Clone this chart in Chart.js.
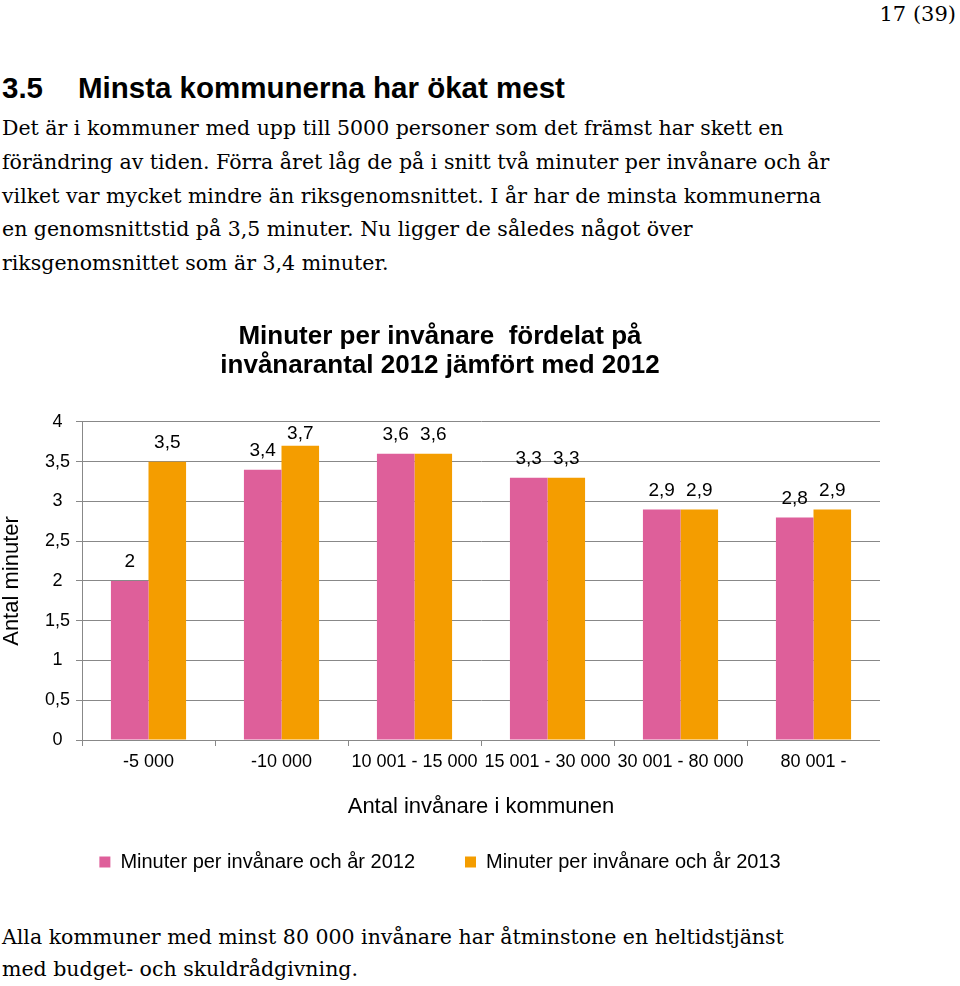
<!DOCTYPE html>
<html lang="sv">
<head>
<meta charset="utf-8">
<script src="https://cdn.jsdelivr.net/npm/chart.js@4/dist/chart.umd.min.js"></script>
<style>
  html, body { margin: 0; padding: 0; background: #fff; }
  body { width: 960px; height: 986px; position: relative; overflow: hidden; color: #000; }
  .pnum { position: absolute; right: 4px; top: 2px; font: 21px "DejaVu Serif", serif; }
  h2 { position: absolute; left: 2px; top: 70px; margin: 0; font: bold 29.5px "Liberation Sans", Arial, sans-serif; line-height: 36px; white-space: nowrap; }
  h2 span { display: inline-block; width: 76px; }
  .txt { position: absolute; left: 2px; margin: 0; font: 20.5px "DejaVu Serif", serif; line-height: 33.8px; white-space: nowrap; }
  #intro { top: 112px; }
  #outro { top: 921px; line-height: 32px; }
  #chartBox { position: absolute; left: 0; top: 310px; width: 880px; height: 580px; }
</style>
</head>
<body>
<div class="pnum">17 (39)</div>
<h2><span>3.5</span>Minsta kommunerna har ökat mest</h2>
<p class="txt" id="intro">Det är i kommuner med upp till 5000 personer som det främst har skett en<br>förändring av tiden. Förra året låg de på i snitt två minuter per invånare och år<br>vilket var mycket mindre än riksgenomsnittet. I år har de minsta kommunerna<br>en genomsnittstid på 3,5 minuter. Nu ligger de således något över<br>riksgenomsnittet som är 3,4 minuter.</p>
<div id="chartBox"><canvas id="chart"></canvas></div>
<p class="txt" id="outro">Alla kommuner med minst 80 000 invånare har åtminstone en heltidstjänst<br>med budget- och skuldrådgivning.</p>
<script>
// data
const categories = ['-5 000', '-10 000', '10 001 - 15 000', '15 001 - 30 000', '30 001 - 80 000', '80 001 -'];
const minutes2012 = [2, 3.4, 3.6, 3.3, 2.9, 2.8];
const minutes2013 = [3.5, 3.7, 3.6, 3.3, 2.9, 2.9];
const seriesNames = ['Minuter per invånare och år 2012', 'Minuter per invånare och år 2013'];
const yTicks = [0, 0.5, 1, 1.5, 2, 2.5, 3, 3.5, 4];

const font = '"Liberation Sans", Arial, sans-serif';
const fmt = v => String(v).replace('.', ',');

// value labels above the bars
const barLabels = {
  id: 'barLabels',
  afterDatasetsDraw(chart) {
    const ctx = chart.ctx;
    ctx.save();
    ctx.font = '19px ' + font;
    ctx.fillStyle = '#000';
    ctx.textAlign = 'center';
    ctx.textBaseline = 'middle';
    chart.data.datasets.forEach((ds, i) => {
      chart.getDatasetMeta(i).data.forEach((bar, j) => {
        const y = Math.max(bar.y - 19, chart.chartArea.top + 12);
        ctx.fillText(fmt(ds.data[j]), bar.x, y);
      });
    });
    ctx.restore();
  }
};

const chartBox = document.querySelector('#chart').getContext('2d');
new Chart(chartBox, {
  type: 'bar',
  data: {
    labels: categories,
    datasets: [
      { label: seriesNames[0], data: minutes2012, backgroundColor: '#DE5F9A' },
      { label: seriesNames[1], data: minutes2013, backgroundColor: '#F49D00' }
    ]
  },
  options: {
    responsive: true,
    maintainAspectRatio: false,
    animation: false,
    devicePixelRatio: 1,
    layout: { padding: { left: 0, right: 0, top: 0, bottom: 8 } },
    datasets: { bar: { barPercentage: 1, categoryPercentage: 0.565 } },
    plugins: {
      tooltip: { enabled: false },
      title: {
        display: true,
        text: ['Minuter per invånare  fördelat på', 'invånarantal 2012 jämfört med 2012'],
        color: '#000',
        font: { family: font, size: 26, weight: 'bold', lineHeight: 1.115 },
        padding: { top: 12.5, bottom: 41.5 }
      },
      legend: {
        position: 'bottom',
        labels: {
          color: '#000',
          boxWidth: 11,
          boxHeight: 11,
          padding: 50,
          font: { family: font, size: 20 }
        }
      }
    },
    scales: {
      x: {
        afterFit: s => { s.height = 62; },
        grid: { drawOnChartArea: false, drawTicks: true, tickLength: 6, color: '#888' },
        border: { display: true, color: '#888' },
        ticks: { color: '#000', padding: 5, autoSkip: false, maxRotation: 0, font: { family: font, size: 18 } },
        title: {
          display: true,
          text: 'Antal invånare i kommunen',
          color: '#000',
          font: { family: font, size: 22 },
          padding: { top: 0, bottom: -18.2 }
        }
      },
      y: {
        min: 0,
        max: 4,
        afterFit: s => { s.width = 82; },
        afterBuildTicks: s => { s.ticks = yTicks.map(v => ({ value: v })); },
        grid: { color: '#888', drawTicks: true, tickLength: 6 },
        border: { display: true, color: '#888' },
        ticks: { color: '#000', padding: 6, crossAlign: 'center', font: { family: font, size: 18 }, callback: v => fmt(v) },
        title: {
          display: true,
          text: 'Antal minuter',
          color: '#000',
          font: { family: font, size: 22 },
          padding: { top: -1, bottom: 0 }
        }
      }
    }
  },
  plugins: [barLabels]
});
</script>
</body>
</html>
